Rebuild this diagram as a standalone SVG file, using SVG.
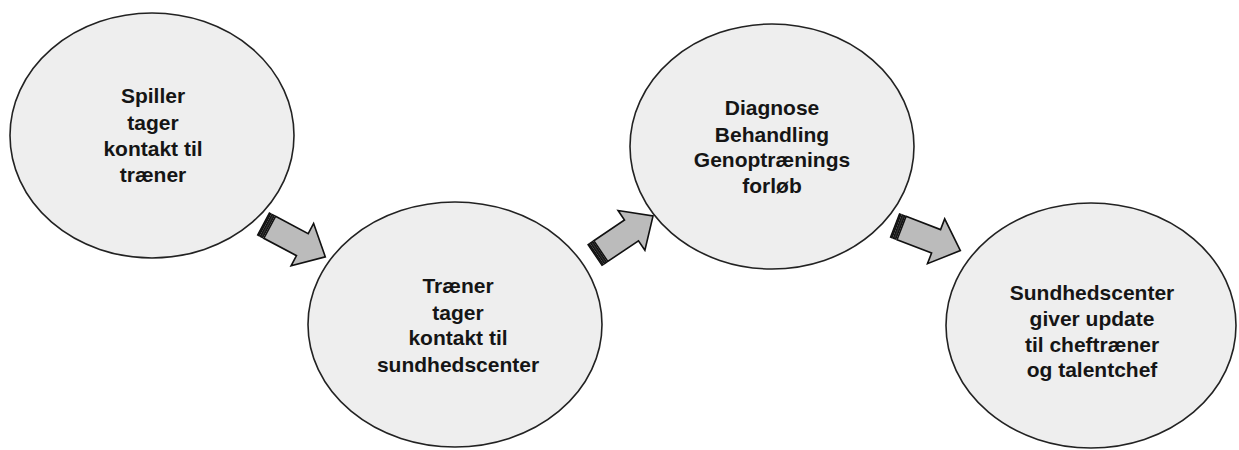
<svg xmlns="http://www.w3.org/2000/svg" width="1239" height="450" viewBox="0 0 1239 450">
<style>
.node ellipse{fill:#eeeeee;stroke:#222222;stroke-width:1.6}
.node text{font-family:"Liberation Sans",Arial,sans-serif;font-weight:bold;font-size:21px;fill:#151515;text-anchor:middle}
.arr{fill:#bbbbbb;stroke:#111111;stroke-width:1.6;stroke-linejoin:miter}
.stripe{fill:#333333;stroke:#111111;stroke-width:1.4}
</style>
<defs>
<g id="blockArrow">
<rect class="stripe" x="0" y="-12.5" width="1.6" height="25"/>
<rect class="stripe" x="3" y="-12.5" width="2.6" height="25"/>
<path class="arr" d="M7 -12.5 L44 -12.5 L44 -24 L70 0 L44 24 L44 12.5 L7 12.5 Z"/>
</g>
</defs>
<rect width="1239" height="450" fill="#ffffff"/>
<g id="node1" class="node">
<ellipse cx="152" cy="135.5" rx="142" ry="122.5"/>
<text x="153" y="103">Spiller</text>
<text x="153" y="129.5">tager</text>
<text x="153" y="156">kontakt til</text>
<text x="153" y="182">træner</text>
</g>
<g id="node2" class="node">
<ellipse cx="455" cy="324.5" rx="147" ry="122.5"/>
<text x="458" y="293">Træner</text>
<text x="458" y="319.5">tager</text>
<text x="458" y="345">kontakt til</text>
<text x="458" y="371.5">sundhedscenter</text>
</g>
<g id="node3" class="node">
<ellipse cx="772" cy="146.5" rx="142" ry="122.5"/>
<text x="772" y="115">Diagnose</text>
<text x="772" y="141.5">Behandling</text>
<text x="772" y="167">Genoptrænings</text>
<text x="772" y="193">forløb</text>
</g>
<g id="node4" class="node">
<ellipse cx="1091" cy="325.5" rx="145" ry="122.5"/>
<text x="1092" y="300">Sundhedscenter</text>
<text x="1092" y="326">giver update</text>
<text x="1092" y="352">til cheftræner</text>
<text x="1092" y="377">og talentchef</text>
</g>
<g id="connectors">
<use href="#blockArrow" transform="translate(263.5 224) rotate(28)"/>
<use href="#blockArrow" transform="translate(595 255) rotate(-34)"/>
<use href="#blockArrow" transform="translate(895 225.5) rotate(21)"/>
</g>
</svg>
